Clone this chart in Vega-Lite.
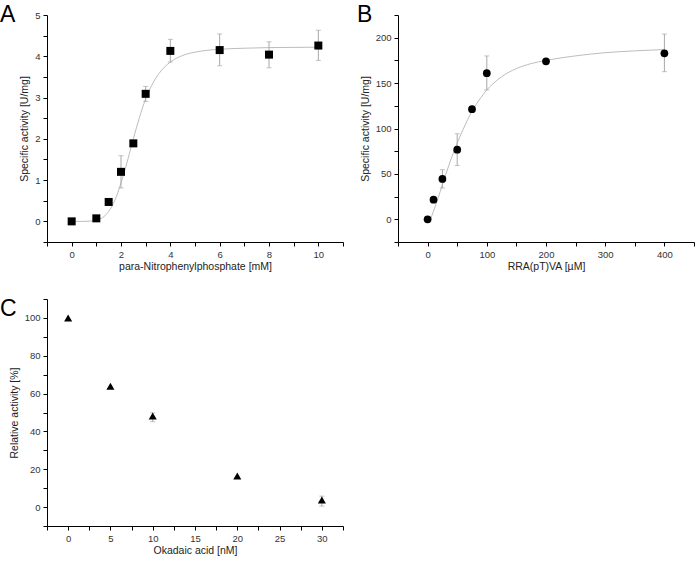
{
  "$schema": "https://vega.github.io/schema/vega-lite/v6.json",
  "padding": {"left": 0, "top": 3, "right": 0, "bottom": 0},
  "background": "white",
  "config": {
    "view": {"stroke": null},
    "axis": {
      "grid": false,
      "domainColor": "#000",
      "domainWidth": 1,
      "tickColor": "#000",
      "tickWidth": 1,
      "tickSize": 4,
      "labelFont": "Liberation Sans",
      "labelFontSize": 9.5,
      "labelColor": "#333",
      "labelPadding": 3,
      "labelOverlap": false,
      "labelBound": false,
      "labelFlush": false,
      "titleFont": "Liberation Sans",
      "titleFontSize": 10.5,
      "titleFontWeight": "normal",
      "titleColor": "#222"
    },
    "axisX": {"titlePadding": 3},
    "axisY": {"titlePadding": 5},
    "title": {"font": "Liberation Sans", "fontSize": 23, "fontWeight": "normal", "color": "#000", "anchor": "start", "frame": "group", "baseline": "alphabetic", "offset": 0}
  },
  "datasets": {
    "a_pts": [
      {"x": 0, "y": 0},
      {"x": 1, "y": 0.073},
      {"x": 1.5, "y": 0.47},
      {"x": 2, "y": 1.2, "lo": 0.81, "hi": 1.59},
      {"x": 2.5, "y": 1.89},
      {"x": 3, "y": 3.09, "lo": 2.905, "hi": 3.27},
      {"x": 4, "y": 4.13, "lo": 3.86, "hi": 4.41},
      {"x": 6, "y": 4.15, "lo": 3.77, "hi": 4.54},
      {"x": 8, "y": 4.04, "lo": 3.72, "hi": 4.35},
      {"x": 10, "y": 4.26, "lo": 3.9, "hi": 4.63}
    ],
    "a_curve": [
      {"x": 0, "y": 0}, {"x": 0.5, "y": 0.0}, {"x": 1, "y": 0.03}, {"x": 1.25, "y": 0.09},
      {"x": 1.5, "y": 0.24}, {"x": 1.75, "y": 0.51}, {"x": 2, "y": 0.93}, {"x": 2.25, "y": 1.44},
      {"x": 2.5, "y": 2.0}, {"x": 2.75, "y": 2.52}, {"x": 3, "y": 2.97}, {"x": 3.25, "y": 3.3},
      {"x": 3.5, "y": 3.55}, {"x": 3.75, "y": 3.73}, {"x": 4, "y": 3.86}, {"x": 4.5, "y": 4.02},
      {"x": 5, "y": 4.1}, {"x": 5.5, "y": 4.145}, {"x": 6, "y": 4.17}, {"x": 7, "y": 4.195},
      {"x": 8, "y": 4.21}, {"x": 9, "y": 4.215}, {"x": 10, "y": 4.22}
    ],
    "b_pts": [
      {"x": 0, "y": 0},
      {"x": 10, "y": 21.6},
      {"x": 25, "y": 44.4, "lo": 34.5, "hi": 54.6},
      {"x": 50, "y": 76.6, "lo": 59.3, "hi": 94.2},
      {"x": 75, "y": 121.3},
      {"x": 100, "y": 160.9, "lo": 142.5, "hi": 179.9},
      {"x": 200, "y": 174},
      {"x": 400, "y": 182.8, "lo": 162.6, "hi": 204}
    ],
    "b_curve": [
      {"x": 5, "y": 0}, {"x": 10, "y": 9}, {"x": 15, "y": 18}, {"x": 20, "y": 28}, {"x": 25, "y": 38},
      {"x": 30, "y": 48}, {"x": 40, "y": 67}, {"x": 50, "y": 84}, {"x": 60, "y": 99}, {"x": 75, "y": 119},
      {"x": 90, "y": 134}, {"x": 100, "y": 142.5}, {"x": 110, "y": 149}, {"x": 125, "y": 157},
      {"x": 150, "y": 166}, {"x": 175, "y": 171.5}, {"x": 200, "y": 175}, {"x": 250, "y": 180},
      {"x": 300, "y": 183.5}, {"x": 350, "y": 185.5}, {"x": 400, "y": 187}
    ],
    "c_pts": [
      {"x": 0, "y": 100},
      {"x": 5, "y": 63.9},
      {"x": 10, "y": 48.1, "lo": 45.1, "hi": 49.8},
      {"x": 20, "y": 16.4},
      {"x": 30, "y": 3.7, "lo": 0.5, "hi": 5.8}
    ]
  },
  "concat": [
    {
      "width": 296, "height": 227,
      "title": {"text": "A", "dx": -47, "dy": 20.5},
      "encoding": {
        "x": {"field": "x", "type": "quantitative",
          "scale": {"domain": [-1, 11], "nice": false, "zero": false},
          "axis": {"title": "para-Nitrophenylphosphate [mM]", "values": [-1,0,1,2,3,4,5,6,7,8,9,10,11], "labelExpr": "datum.value % 2 === 0 ? format(datum.value, 'd') : ''"}},
        "y": {"field": "y", "type": "quantitative",
          "scale": {"domain": [-0.5, 5], "nice": false, "zero": false},
          "axis": {"title": "Specific activity [U/mg]", "values": [-0.5,0,0.5,1,1.5,2,2.5,3,3.5,4,4.5,5], "labelExpr": "datum.value % 1 === 0 ? format(datum.value, 'd') : ''"}}
      },
      "layer": [
        {"data": {"name": "a_curve"}, "mark": {"type": "line", "interpolate": "monotone", "color": "#bdbdbd", "strokeWidth": 1}},
        {"data": {"name": "a_pts"}, "transform": [{"filter": "isValid(datum.hi)"}],
          "mark": {"type": "errorbar", "ticks": {"size": 5}, "color": "#a8a8a8", "thickness": 1},
          "encoding": {"y": {"field": "lo", "type": "quantitative", "title": "Specific activity [U/mg]"}, "y2": {"field": "hi"}}},
        {"data": {"name": "a_pts"}, "mark": {"type": "square", "size": 64, "color": "#000", "opacity": 1, "filled": true}}
      ]
    },
    {
      "width": 296, "height": 227,
      "title": {"text": "B", "dx": -41, "dy": 20.5},
      "encoding": {
        "x": {"field": "x", "type": "quantitative",
          "scale": {"domain": [-50, 450], "nice": false, "zero": false},
          "axis": {"title": "RRA(pT)VA [µM]", "values": [-50,0,50,100,150,200,250,300,350,400,450], "labelExpr": "datum.value % 100 === 0 ? format(datum.value, 'd') : ''"}},
        "y": {"field": "y", "type": "quantitative",
          "scale": {"domain": [-25, 225], "nice": false, "zero": false},
          "axis": {"title": "Specific activity [U/mg]", "values": [-25,0,25,50,75,100,125,150,175,200,225], "labelExpr": "datum.value % 50 === 0 ? format(datum.value, 'd') : ''"}}
      },
      "layer": [
        {"data": {"name": "b_curve"}, "mark": {"type": "line", "interpolate": "monotone", "color": "#bdbdbd", "strokeWidth": 1}},
        {"data": {"name": "b_pts"}, "transform": [{"filter": "isValid(datum.hi)"}],
          "mark": {"type": "errorbar", "ticks": {"size": 5}, "color": "#a8a8a8", "thickness": 1},
          "encoding": {"y": {"field": "lo", "type": "quantitative", "title": "Specific activity [U/mg]"}, "y2": {"field": "hi"}}},
        {"data": {"name": "b_pts"}, "mark": {"type": "circle", "size": 60, "color": "#000", "opacity": 1}}
      ]
    },
    {
      "width": 296, "height": 227,
      "title": {"text": "C", "dx": -47, "dy": 31},
      "encoding": {
        "x": {"field": "x", "type": "quantitative",
          "scale": {"domain": [-2.5, 32.5], "nice": false, "zero": false},
          "axis": {"title": "Okadaic acid [nM]", "values": [-2.5,0,2.5,5,7.5,10,12.5,15,17.5,20,22.5,25,27.5,30,32.5], "labelExpr": "datum.value % 5 === 0 ? format(datum.value, 'd') : ''"}},
        "y": {"field": "y", "type": "quantitative",
          "scale": {"domain": [-10, 110], "nice": false, "zero": false},
          "axis": {"title": "Relative activity [%]", "values": [-10,0,10,20,30,40,50,60,70,80,90,100,110], "labelExpr": "datum.value % 20 === 0 ? format(datum.value, 'd') : ''"}}
      },
      "layer": [
        {"data": {"name": "c_pts"}, "transform": [{"filter": "isValid(datum.hi)"}],
          "mark": {"type": "errorbar", "ticks": {"size": 5}, "color": "#a8a8a8", "thickness": 1},
          "encoding": {"y": {"field": "lo", "type": "quantitative", "title": "Relative activity [%]"}, "y2": {"field": "hi"}}},
        {"data": {"name": "c_pts"}, "mark": {"type": "point", "shape": "triangle-up", "size": 65, "color": "#000", "filled": true, "opacity": 1}}
      ]
    }
  ],
  "columns": 2,
  "bounds": "flush",
  "spacing": {"row": 57, "column": 55}
}
